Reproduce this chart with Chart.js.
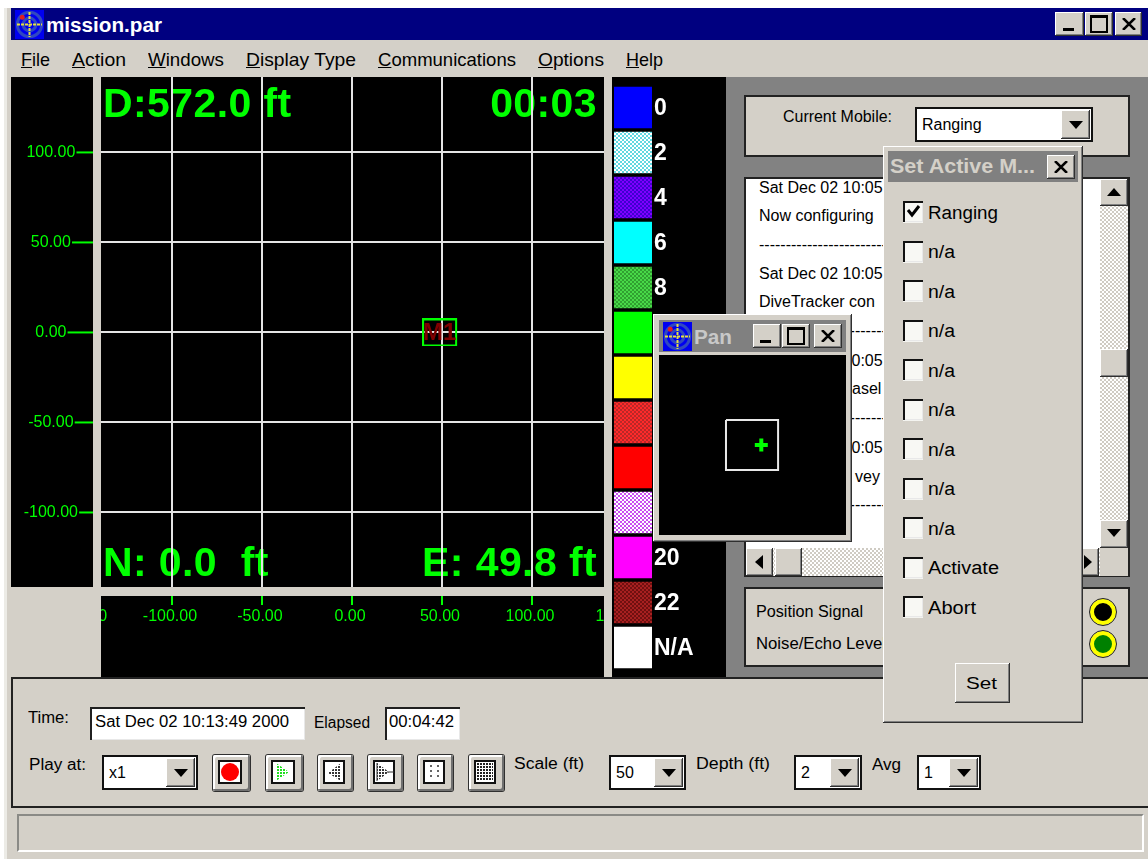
<!DOCTYPE html>
<html>
<head>
<meta charset="utf-8">
<title>mission.par</title>
<script src="https://cdn.jsdelivr.net/npm/chart.js@4"></script>
<style>
  html, body { margin: 0; padding: 0; background: #fff; }
  #app { position: absolute; left: 0; top: 0; width: 1148px; height: 859px; overflow: hidden; background: #fff; filter: blur(0.45px); }
  #app div, #app canvas, #app svg { position: absolute; }
  .t { position: absolute; white-space: nowrap; transform-origin: left center; font-family: "Liberation Sans", Arial, sans-serif; color: #000; line-height: 1; }
  .bevel { background: #d4d0c8; box-shadow: inset -1px -1px #303030, inset 1px 1px #fff, inset -2px -2px #808080; }
  .sunken { background: #fff; box-shadow: inset 2px 2px #202020, inset -1px -1px #e8e8e8; }
  .group { background: #d4d0c8; box-sizing: border-box; border: 2px solid #222; }
  .dither { background: repeating-conic-gradient(#fff 0 25%, #cfcbc3 0 50%) 0 0 / 4px 4px; }
</style>
</head>
<body>
<div id="app"></div>
<script>
// plot values
const xTicks = [-150, -100, -50, 0, 50, 100, 150];
const yTicks = [100, 50, 0, -50, -100];
const eastValues = [49.8];
const northValues = [0];
const markerName = 'M1';

// depth legend
const legendLabels = ['0', '2', '4', '6', '8', '10', '12', '14', '16', '18', '20', '22', 'N/A'];
const legendValues = [1, 1, 1, 1, 1, 1, 1, 1, 1, 1, 1, 1, 1];
const legendColorsA = ['#0000ff', '#ffffff', '#8000ff', '#00ffff', '#48d848', '#00ff00', '#ffff00', '#ff2a2a', '#ff0000', '#ffffff', '#ff00ff', '#a82020', '#ffffff'];
const legendColorsB = [null, '#60d8e0', '#4000d0', null, '#30a030', null, null, '#b82828', null, '#c850f0', null, '#701010', null];

// pan window, same feet as the plot
const viewX = [-140, 140, 140, -140, -140];
const viewY = [134, 134, -134, -134, 134];

// readouts
const readoutTop = ['D:572.0 ft', '00:03'];
const readoutBottom = ['N: 0.0  ft', 'E: 49.8 ft'];

const menuItems = [['File', 21, 29], ['Action', 72, 54], ['Windows', 148, 76], ['Display Type', 246, 110], ['Communications', 378, 138], ['Options', 538, 66], ['Help', 626, 37]];
const activeItems = ['Ranging', 'n/a', 'n/a', 'n/a', 'n/a', 'n/a', 'n/a', 'n/a', 'n/a', 'Activate', 'Abort'];

const GRAY = '#d4d0c8';
const GREEN = '#00ff00';
const GRID = '#e4e4e4';
const app = document.getElementById('app');

function box(x, y, w, h, cls, css) {
    const d = document.createElement('div');
    d.style.cssText = 'left:' + x + 'px;top:' + y + 'px;width:' + w + 'px;height:' + h + 'px;' + (css || '');
    if (cls) d.className = cls;
    app.appendChild(d);
    return d;
}

// text centred on cy, squeezed or stretched to width w when given
function text(str, x, cy, size, w, css) {
    const s = document.createElement('span');
    s.className = 't';
    s.innerHTML = str;
    s.style.cssText = 'left:' + x + 'px;top:' + (cy - size / 2) + 'px;font-size:' + size + 'px;' + (css || '');
    app.appendChild(s);
    if (w) s.style.transform = 'scaleX(' + (w / s.getBoundingClientRect().width) + ')';
    return s;
}

function svg(x, y, w, h, inner) {
    const holder = document.createElement('div');
    holder.style.cssText = 'left:' + x + 'px;top:' + y + 'px;width:' + w + 'px;height:' + h + 'px;';
    holder.innerHTML = '<svg width="' + w + '" height="' + h + '" viewBox="0 0 ' + w + ' ' + h + '">' + inner + '</svg>';
    app.appendChild(holder);
}

function arrowDown(cx, cy) {
    svg(cx - 7, cy - 4, 14, 8, '<path d="M0 0H14L7 8Z" fill="#000"/>');
}

function combo(x, y, w, h, label, btnX, btnW) {
    box(x, y, w - 4, h - 4, null, 'background:#fff;border:2px solid #111;');
    text(label, x + 7, y + h / 2 + 0.5, 16);
    box(btnX, y + 3, btnW, h - 6, 'bevel');
    arrowDown(btnX + btnW / 2, y + h / 2);
}

function windowIcon(x, y, s) {
    const c = s / 2;
    svg(x, y, s, s, '<rect width="' + s + '" height="' + s + '" fill="#0000f0"/>' +
        '<circle cx="' + c + '" cy="' + c + '" r="' + (s * 0.42) + '" fill="none" stroke="#3048c0" stroke-width="3"/>' +
        '<circle cx="' + c + '" cy="' + c + '" r="' + (s * 0.22) + '" fill="none" stroke="#3048c0" stroke-width="3"/>' +
        '<path d="M' + c + ' 2V' + (s - 2) + 'M2 ' + c + 'H' + (s - 2) + '" stroke="#e8e040" stroke-width="2" stroke-dasharray="3 1"/>' +
        '<circle cx="' + (s * 0.25) + '" cy="' + (s * 0.25) + '" r="2.5" fill="#e02020"/>');
}

function capButton(x, y, w, h, kind) {
    box(x, y, w, h, 'bevel');
    const cx = x + w / 2, cy = y + h / 2;
    if (kind === 'min') box(cx - 7, cy + 4, 11, 3, null, 'background:#000;');
    if (kind === 'max') box(cx - 9, cy - 9, 14, 13, null, 'border:2px solid #000;border-top-width:3px;');
    if (kind === 'close') svg(cx - 7, cy - 6, 14, 12, '<path d="M1 0L13 12M13 0L1 12" stroke="#000" stroke-width="2.5"/>');
}

// ---- window frame ----
box(4, 8, 1144, 851, null, 'background:' + GRAY + ';');
box(4, 8, 3, 851, null, 'background:#ecebe6;');
box(11, 8, 1137, 32, null, 'background:#000080;');
windowIcon(15, 10, 29);
text('mission.par', 46, 25, 20, 116, 'color:#fff;font-weight:bold;');
capButton(1055, 12, 29, 24, 'min');
capButton(1085, 12, 28, 24, 'max');
capButton(1115, 12, 27, 24, 'close');
menuItems.forEach(m => text('<u>' + m[0][0] + '</u>' + m[0].slice(1), m[1], 59, 19, m[2]));

// ---- main plot ----
function makeCanvas(x, y, w, h) {
    const c = document.createElement('canvas');
    c.width = w; c.height = h;
    c.style.cssText = 'left:' + x + 'px;top:' + y + 'px;width:' + w + 'px;height:' + h + 'px;';
    app.appendChild(c);
    return c;
}

const tickFont = { family: '"Liberation Sans", sans-serif', size: 16 };

function markerBox() {
    // box sits a little left of the point in the reference
    const c = document.createElement('canvas');
    c.width = 39; c.height = 28;
    const g = c.getContext('2d');
    g.strokeStyle = GREEN;
    g.lineWidth = 2;
    g.strokeRect(1, 1, 33, 26);
    return c;
}

const panelsPlugin = {
    id: 'panels',
    beforeDraw(chart) {
        const ctx = chart.ctx, a = chart.chartArea;
        ctx.save();
        ctx.fillStyle = GRAY;
        ctx.fillRect(0, 0, chart.width, chart.height);
        ctx.fillStyle = '#000';
        ctx.fillRect(0, 0, a.left - 8, a.bottom);
        ctx.fillRect(a.left, a.top, a.right - a.left, a.bottom - a.top);
        ctx.fillRect(a.left, a.bottom + 9, a.right - a.left, chart.height - a.bottom - 9);
        // readouts go under the grid
        ctx.fillStyle = GREEN;
        ctx.font = 'bold 41px "Liberation Sans", sans-serif';
        ctx.letterSpacing = '0.4px';
        ctx.textBaseline = 'alphabetic';
        ctx.textAlign = 'left';
        ctx.fillText(readoutTop[0], a.left + 2, 40);
        ctx.fillText(readoutBottom[0], a.left + 2, 499);
        ctx.textAlign = 'right';
        ctx.fillText(readoutTop[1], a.right - 7, 40);
        ctx.fillText(readoutBottom[1], a.right - 7, 499);
        ctx.letterSpacing = '0px';
        ctx.restore();
    },
    afterDraw(chart) {
        const ctx = chart.ctx, a = chart.chartArea, sy = chart.scales.y;
        ctx.save();
        // strip between plot and x axis, and the corner under the y panel
        ctx.fillStyle = GRAY;
        ctx.fillRect(0, a.bottom, chart.width, 9);
        ctx.fillRect(0, a.bottom, a.left, chart.height - a.bottom);
        // y ticks run from the label to the panel edge
        ctx.strokeStyle = GREEN;
        ctx.lineWidth = 2;
        ctx.font = tickFont.size + 'px ' + tickFont.family;
        yTicks.forEach(v => {
            const py = sy.getPixelForValue(v);
            const half = ctx.measureText(v.toFixed(2)).width / 2;
            ctx.beginPath();
            ctx.moveTo(40 + half + 1, py);
            ctx.lineTo(a.left - 8, py);
            ctx.stroke();
        });
        // marker name
        const pt = chart.getDatasetMeta(0).data[0];
        ctx.fillStyle = '#800000';
        ctx.font = 'bold 24px "Liberation Sans", sans-serif';
        ctx.textAlign = 'center';
        ctx.textBaseline = 'middle';
        ctx.fillText(markerName, pt.x - 2, pt.y + 1);
        ctx.restore();
    }
};

// the +-150 ticks only show as cut off labels, no line for them
function inRange(c, color) {
    return Math.abs(c.tick.value) > 140 ? 'transparent' : color;
}

new Chart(makeCanvas(11, 77, 593, 600), {
    type: 'scatter',
    plugins: [panelsPlugin],
    data: {
        datasets: [{
            data: eastValues.map((e, i) => ({ x: e, y: northValues[i] })),
            pointStyle: markerBox(),
            pointRadius: 14
        }]
    },
    options: {
        responsive: false,
        animation: false,
        devicePixelRatio: 1,
        plugins: { legend: { display: false }, tooltip: { enabled: false } },
        layout: { padding: 0, autoPadding: false },
        scales: {
            x: {
                type: 'linear',
                min: -139.4,
                max: 140,
                afterBuildTicks(s) { s.ticks = xTicks.map(v => ({ value: v })); },
                afterFit(s) { s.height = 90; s.paddingLeft = 0; s.paddingRight = 0; },
                grid: {
                    color: c => inRange(c, GRID), lineWidth: 2,
                    tickColor: c => inRange(c, GREEN), tickLength: 18, tickWidth: 2
                },
                border: { display: false },
                ticks: {
                    color: GREEN, font: tickFont, padding: 2, labelOffset: -2,
                    autoSkip: false, maxRotation: 0, minRotation: 0, includeBounds: false,
                    callback: v => v.toFixed(2)
                }
            },
            y: {
                type: 'linear',
                min: -141.4,
                max: 141.9,
                afterBuildTicks(s) { s.ticks = yTicks.map(v => ({ value: v })).reverse(); },
                afterFit(s) { s.width = 90; s.paddingTop = 0; s.paddingBottom = 0; },
                grid: { color: GRID, lineWidth: 2, drawTicks: false },
                border: { display: false },
                ticks: {
                    color: GREEN, font: tickFont, crossAlign: 'center', padding: 23,
                    autoSkip: false, includeBounds: false,
                    callback: v => v.toFixed(2)
                }
            }
        }
    }
});

// ---- depth legend ----
function swatch(a, b) {
    if (!b) return a;
    const c = document.createElement('canvas');
    c.width = 4; c.height = 4;
    const g = c.getContext('2d');
    g.fillStyle = a;
    g.fillRect(0, 0, 4, 4);
    g.fillStyle = b;
    g.fillRect(0, 0, 2, 2);
    g.fillRect(2, 2, 2, 2);
    return g.createPattern(c, 'repeat');
}

new Chart(makeCanvas(612, 77, 114, 600), {
    type: 'bar',
    plugins: [{
        id: 'legendBack',
        beforeDraw(chart) {
            chart.ctx.fillStyle = '#000';
            chart.ctx.fillRect(0, 0, chart.width, chart.height);
        }
    }],
    data: {
        labels: legendLabels,
        datasets: [{
            data: legendValues,
            backgroundColor: legendColorsA.map((c, i) => swatch(c, legendColorsB[i])),
            barPercentage: 1,
            categoryPercentage: 0.925
        }]
    },
    options: {
        indexAxis: 'y',
        responsive: false,
        animation: false,
        devicePixelRatio: 1,
        plugins: { legend: { display: false }, tooltip: { enabled: false } },
        layout: { padding: { left: 2, top: 8, bottom: 7 }, autoPadding: false },
        scales: {
            x: { display: false, min: 0, max: 1 },
            y: {
                position: 'right',
                afterFit(s) { s.width = 74; s.paddingTop = 0; s.paddingBottom = 0; },
                grid: { display: false, drawTicks: false },
                border: { display: false },
                ticks: {
                    color: '#fff', crossAlign: 'near', padding: 2, autoSkip: false, labelOffset: 1.5,
                    font: { family: '"Liberation Sans", sans-serif', size: 23, weight: 'bold' }
                }
            }
        }
    }
});

// ---- right side ----
box(726, 77, 422, 600, null, 'background:#828282;');
box(744, 95, 386, 62, 'group');
text('Current Mobile:', 783, 117, 16, 109);
combo(915, 107, 178, 35, 'Ranging', 1061, 29);

// log list
box(744, 177, 386, 400, 'group', 'background:#fff;');
[['Sat Dec 02 10:05', 188], ['Now configuring', 216], ['-----------------------------', 245], ['Sat Dec 02 10:05', 274],
 ['DiveTracker con', 302], ['-----------------------------', 331], ['Sat Dec 02 10:05', 361], ['-----------------------------', 418],
 ['Sat Dec 02 10:05', 448], ['-----------------------------', 505]].forEach(l => text(l[0], 759, l[1], 16, null, 'width:124px;overflow:hidden;'));
text('asel', 852, 389, 16);
text('vey', 855, 477, 16);

// scrollbars
box(1100, 179, 28, 369, 'dither');
box(1100, 179, 28, 27, 'bevel');
svg(1107, 188, 14, 8, '<path d="M0 8H14L7 0Z" fill="#000"/>');
box(1100, 349, 28, 28, 'bevel');
box(1100, 520, 28, 28, 'bevel');
arrowDown(1114, 533);
box(746, 548, 354, 28, 'dither');
box(746, 548, 27, 28, 'bevel');
svg(755, 555, 8, 14, '<path d="M8 0V14L0 7Z" fill="#000"/>');
box(775, 548, 27, 28, 'bevel');
box(1078, 548, 21, 28, 'bevel');
svg(1084, 555, 8, 14, '<path d="M0 0V14L8 7Z" fill="#000"/>');
box(1100, 548, 28, 28, null, 'background:' + GRAY + ';');

// signal lights
box(744, 587, 386, 80, 'group');
text('Position Signal', 756, 612, 16, 107);
text('Noise/Echo Level', 756, 644, 16, 130);
[[612, '#000'], [644, '#008000']].forEach(l => {
    svg(1089, l[0] - 15, 28, 30, '<circle cx="14" cy="15" r="11" fill="' + l[1] + '" stroke="#ffff00" stroke-width="4"/><circle cx="14" cy="15" r="13.5" fill="none" stroke="#222" stroke-width="1"/>');
});

// ---- bottom bar ----
box(11, 677, 1137, 131, null, 'box-sizing:border-box;background:' + GRAY + ';border:2px solid #222;border-right:none;');
text('Time:', 28, 718, 16, 41);
box(90, 707, 215, 33, 'sunken');
text('Sat Dec 02 10:13:49 2000', 95, 722, 16, 194);
text('Elapsed', 314, 723, 16, 56);
box(385, 707, 75, 33, 'sunken');
text('00:04:42', 389, 722, 16, 65);
text('Play at:', 29, 765, 16, 57);
combo(102, 755, 96, 35, 'x1', 166, 29);

// dithered fill for the tool button glyphs
function dots(id, color) {
    return '<defs><pattern id="' + id + '" width="3" height="3" patternUnits="userSpaceOnUse"><rect width="2" height="2" fill="' + color + '"/></pattern></defs>';
}

function toolButton(x, w, inner) {
    box(x, 755, w, 36, 'bevel', 'border-radius:2px;box-shadow:inset -2px -2px #707070,inset 2px 2px #fff,0 0 0 1px #303030;');
    box(x + 5, 760, w - 13, 24, null, 'background:#fff;border:2px solid #111;box-sizing:border-box;');
    svg(x + 5, 760, w - 13, 24, inner);
}
toolButton(213, 37, '<circle cx="12" cy="12" r="9" fill="#ff0000"/>');
toolButton(266, 37, dots('pg', '#20e020') + '<path d="M5 3L18 12L5 21Z" fill="url(#pg)"/>');
toolButton(318, 35, dots('p3', '#333') + '<path d="M18 3L5 13L18 21Z" fill="url(#p3)"/>');
toolButton(368, 35, dots('p4', '#333') + '<path d="M4 3L16 12L4 21Z" fill="url(#p4)"/><path d="M4 3V21M14 12H21" stroke="#333"/>');
toolButton(418, 35, '<path d="M8 5V20M15 5V20" stroke="#333" stroke-width="1.5" stroke-dasharray="2 3"/>');
toolButton(469, 35, dots('p6', '#222') + '<rect x="3" y="3" width="16" height="18" fill="url(#p6)"/>');

text('Scale (ft)', 514, 764, 16, 70);
combo(609, 755, 77, 35, '50', 654, 29);
text('Depth (ft)', 696, 764, 16, 74);
combo(794, 755, 68, 35, '2', 830, 29);
text('Avg', 872, 765, 16, 29);
combo(917, 755, 64, 35, '1', 949, 29);

box(17, 814, 1127, 38, null, 'box-sizing:border-box;background:' + GRAY + ';border:2px solid;border-color:#8a8a86 #fff #fff #8a8a86;');

// ---- pan window ----
box(653, 314, 199, 228, 'bevel');
box(659, 320, 187, 32, null, 'background:#808080;');
windowIcon(663, 322, 29);
text('Pan', 694, 337, 20, 38, 'color:#c8c8c8;font-weight:bold;');
capButton(753, 324, 28, 24, 'min');
capButton(782, 324, 28, 24, 'max');
capButton(814, 324, 28, 24, 'close');

new Chart(makeCanvas(659, 355, 187, 180), {
    type: 'scatter',
    plugins: [{
        id: 'panBack',
        beforeDraw(chart) {
            chart.ctx.fillStyle = '#000';
            chart.ctx.fillRect(0, 0, chart.width, chart.height);
        }
    }],
    data: {
        datasets: [{
            data: eastValues.map((e, i) => ({ x: e, y: northValues[i] })),
            pointStyle: 'cross',
            pointRadius: 6.5,
            pointBorderColor: GREEN,
            pointBorderWidth: 4
        }, {
            data: viewX.map((v, i) => ({ x: v, y: viewY[i] })),
            showLine: true,
            pointRadius: 0,
            borderColor: '#e8e8e8',
            borderWidth: 2
        }]
    },
    options: {
        responsive: false,
        animation: false,
        devicePixelRatio: 1,
        layout: { autoPadding: false },
        plugins: { legend: { display: false }, tooltip: { enabled: false } },
        scales: {
            x: { display: false, min: -500, max: 505 },
            y: { display: false, min: -484, max: 484 }
        }
    }
});

// ---- set active window ----
box(883, 146, 200, 577, 'bevel');
box(888, 151, 190, 31, null, 'background:#808080;');
text('Set Active M...', 890, 166, 20, 145, 'color:#d4d0c8;font-weight:bold;');
capButton(1047, 155, 28, 24, 'close');
const itemWidths = { 'n/a': 27, 'Ranging': 70, 'Activate': 71, 'Abort': 48 };
activeItems.forEach((name, i) => {
    const cy = 212 + i * 39.5;
    box(903, cy - 11, 20, 21, null, 'background:#f8f8f4;box-shadow:inset 2px 2px #111,inset -1px -1px #e8e8e8,0 1px #f4f4f0;');
    if (name === 'Ranging') svg(905, cy - 9, 16, 16, '<path d="M3 7L7 12L14 3" fill="none" stroke="#000" stroke-width="3"/>');
    text(name, 928, cy + 0.5, 18, itemWidths[name]);
});
box(955, 663, 55, 40, 'bevel');
text('Set', 966, 683, 17, 31);
</script>
</body>
</html>
